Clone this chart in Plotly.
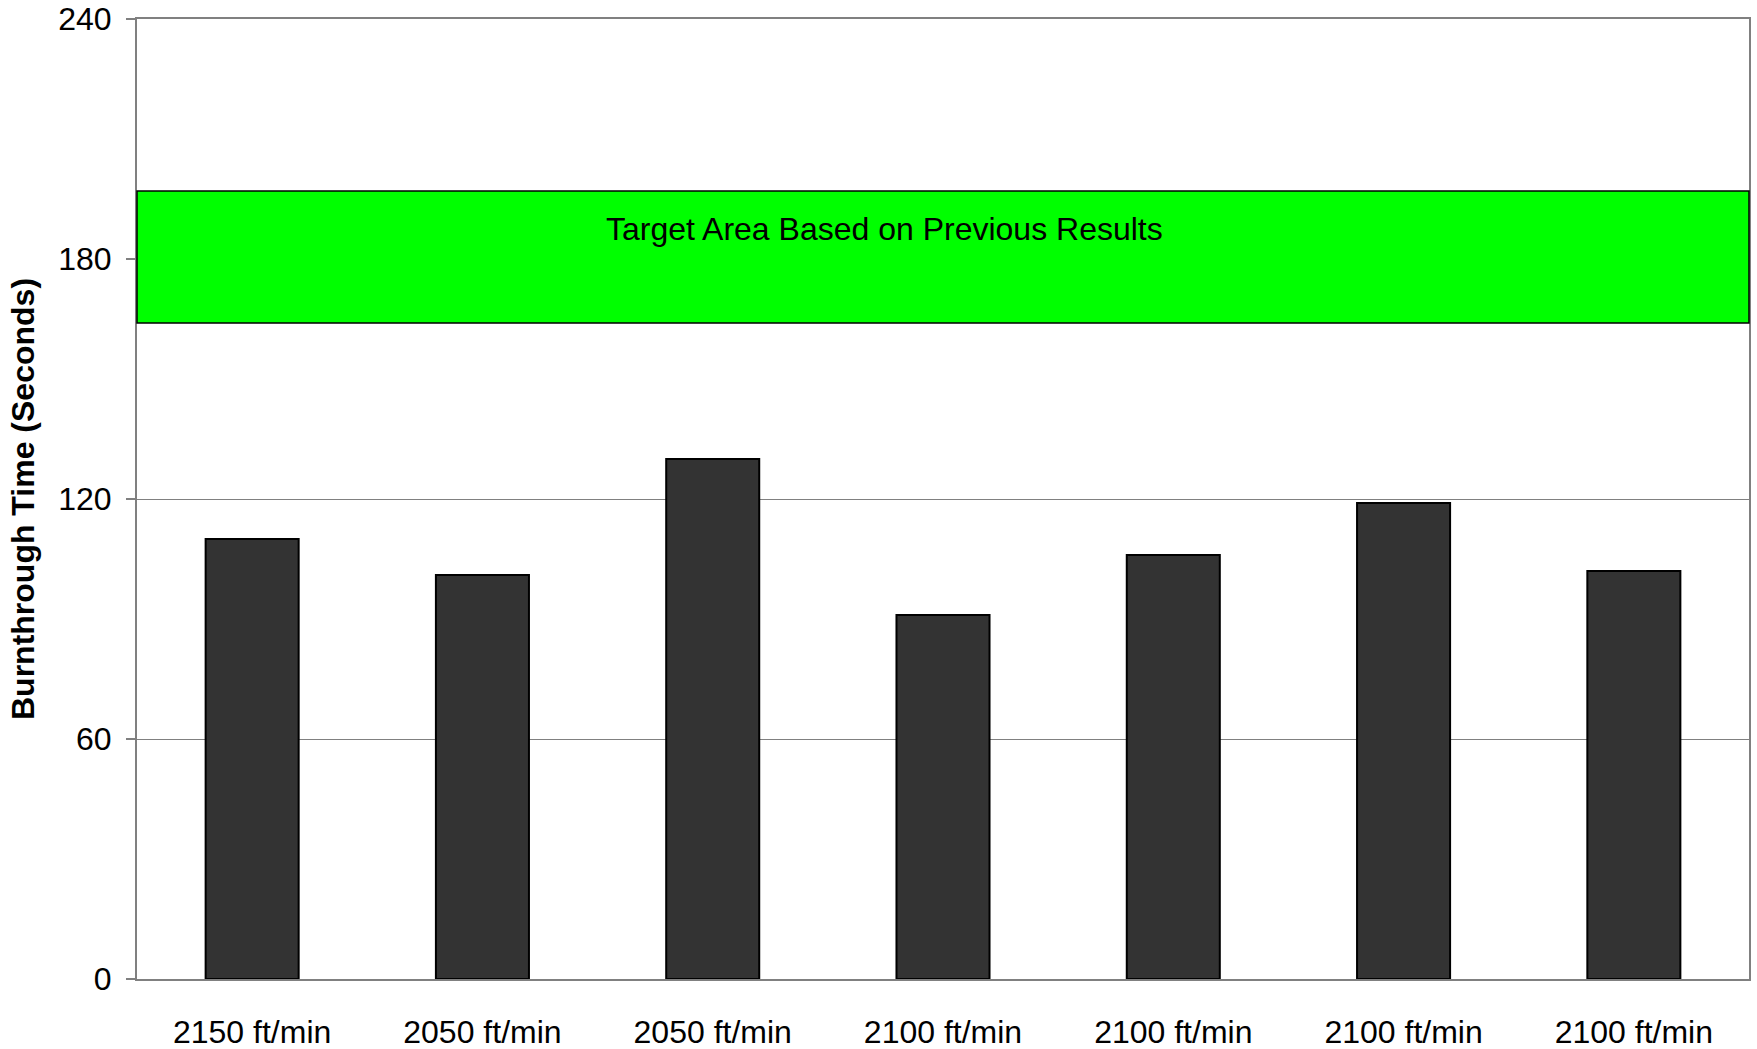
import plotly.graph_objects as go

categories = ["2150 ft/min", "2050 ft/min", "2050 ft/min", "2100 ft/min",
              "2100 ft/min", "2100 ft/min", "2100 ft/min"]
burnthrough = [110, 101, 130, 91, 106, 119, 102]
target_low = 164
target_high = 197
target_label_y = 187.5
target_label = "Target Area Based on Previous Results"
y_ticks = [0, 60, 120, 180, 240]

positions = list(range(len(categories)))
FONT = "Liberation Sans, Arial, sans-serif"

fig = go.Figure()
fig.add_trace(go.Bar(
    x=positions, y=burnthrough, width=0.404,
    marker=dict(color="#333333", line=dict(color="#000000", width=2)),
    showlegend=False, hoverinfo="y",
))

fig.add_shape(type="rect", xref="paper", yref="y", x0=0, x1=1,
              y0=target_low, y1=target_high,
              fillcolor="#00FF00", line=dict(color="#000000", width=1.5),
              layer="above")
fig.add_annotation(xref="paper", yref="y", x=0.4638, y=target_label_y,
                   text=target_label, showarrow=False, yanchor="middle",
                   font=dict(family=FONT, size=32, color="#000000"))

fig.update_layout(
    width=1757, height=1049,
    margin=dict(l=137, r=8, t=19, b=70),
    plot_bgcolor="#FFFFFF", paper_bgcolor="#FFFFFF",
    font=dict(family=FONT, size=32, color="#000000"),
)
fig.update_xaxes(
    range=[-0.5, len(categories) - 0.5],
    tickvals=positions, ticktext=categories,
    showline=True, linecolor="#808080", linewidth=2, mirror=True,
    ticks="", showgrid=False, zeroline=False,
    ticklabelstandoff=24, automargin=False,
    tickfont=dict(family=FONT, size=32, color="#000000"),
)
fig.update_yaxes(
    range=[0, 240], tickvals=y_ticks,
    showline=True, linecolor="#808080", linewidth=2, mirror=True,
    ticks="outside", ticklen=9, tickcolor="#808080", tickwidth=1.5,
    showgrid=True, gridcolor="#808080", gridwidth=1,
    zeroline=False, automargin=False,
    ticklabelstandoff=8,
    tickfont=dict(family=FONT, size=32, color="#000000"),
    title=dict(text="<b>Burnthrough Time (Seconds)</b>", standoff=14,
               font=dict(family=FONT, size=32, color="#000000")),
)

fig.write_html("out.html",
               config={"displayModeBar": False},
               post_script="document.body.style.margin='0px';document.body.style.overflow='hidden';")
